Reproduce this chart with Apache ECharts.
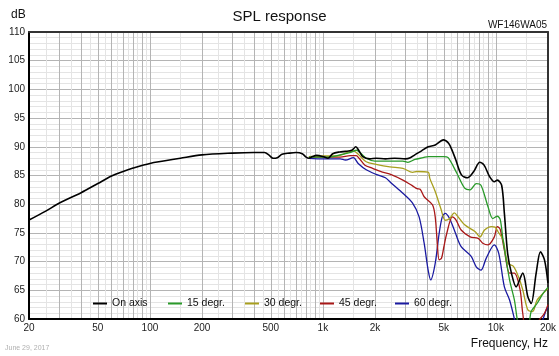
<!DOCTYPE html>
<html>
<head>
<meta charset="utf-8">
<script src="https://cdn.jsdelivr.net/npm/echarts@6/dist/echarts.min.js"></script>
<style>
html,body{margin:0;padding:0;background:#fff;}
#chart{width:559px;height:356px;}
</style>
</head>
<body>
<div id="chart"></div>
<script>
// ---- data (frequency in Hz, level in dB) ----
const seriesNames = ['On axis', '15 degr.', '30 degr.', '45 degr.', '60 degr.'];

const onAxis = [[20,77.25],[25,78.8],[30,80.2],[40,82.0],[50,83.6],[60,84.9],[70,85.7],[80,86.3],[100,87.1],[150,88.0],[200,88.6],[300,88.9],[400,89.0],[460,89.0],[490,88.5],[515,88.0],[545,88.1],[580,88.7],[640,88.9],[700,89.0],[760,88.8],[800,88.2],[830,88.0],[870,88.3],[920,88.5],[1000,88.3],[1070,88.0],[1140,88.8],[1250,89.1],[1350,89.2],[1470,89.4],[1550,90.0],[1610,89.4],[1700,88.3],[1870,87.9],[2030,88.0],[2300,87.9],[2600,88.0],[3000,87.9],[3200,88.1],[3400,88.6],[3720,89.3],[4060,90.0],[4460,90.3],[4970,91.2],[5330,90.6],[5600,89.3],[5870,87.7],[6330,85.1],[6850,84.6],[7450,85.7],[8070,87.3],[8550,86.8],[9200,84.8],[9800,83.9],[10200,84.2],[10800,83.3],[11200,78.4],[11700,71.4],[12300,68.0],[13100,65.6],[14300,68.0],[15300,63.9],[16000,62.7],[17100,68.0],[18100,71.7],[19100,70.3],[20000,66.3]];

const deg15 = [[830,88.2],[1000,88.2],[1100,88.2],[1260,88.6],[1430,89.0],[1570,89.4],[1650,88.9],[1780,88.0],[2000,87.5],[2500,87.5],[2900,87.5],[3100,87.3],[3400,87.8],[3800,88.1],[4060,88.3],[4500,88.3],[5000,88.3],[5300,88.1],[5950,85.4],[6600,82.8],[7100,82.5],[7700,83.6],[8200,83.3],[9000,79.6],[9600,77.5],[10200,77.9],[10600,77.3],[11000,73.8],[12000,66.8],[12800,63.3],[13500,59.0],[14500,57.5],[15500,59.0],[16000,61.3],[17300,62.7],[18800,64.5],[20000,65.5]];

const deg30 = [[830,88.3],[1000,88.4],[1200,88.4],[1500,89.3],[1600,88.7],[1780,87.4],[2030,86.95],[2440,86.5],[2900,86.25],[3300,85.55],[3500,85.7],[4060,85.6],[4150,84.5],[4460,82.2],[4800,79.3],[5100,77.2],[5400,77.5],[5750,78.5],[6050,77.8],[6600,76.4],[7600,75.2],[8100,74.3],[8600,75.5],[9400,76.1],[9900,76.0],[10300,75.2],[11000,73.8],[11700,69.7],[12600,69.2],[13500,67.4],[14300,65.1],[15300,61.6],[16300,61.3],[17300,63.3],[18800,64.5],[20000,65.3]];

const deg45 = [[830,88.2],[1000,88.2],[1260,88.2],[1440,88.45],[1560,88.45],[1620,88.0],[1750,86.8],[1940,86.25],[2150,85.7],[2500,85.1],[2900,84.2],[3300,83.2],[3500,82.7],[3650,82.6],[3850,81.3],[4300,79.9],[4460,77.8],[4570,73.8],[4700,70.3],[4850,70.6],[5000,72.5],[5200,74.9],[5600,77.8],[5900,77.2],[6300,75.5],[7100,74.3],[7900,74.05],[8400,73.2],[9000,72.9],[9800,74.3],[10200,76.1],[10600,75.6],[11200,72.0],[12000,68.0],[12800,68.0],[13800,65.1],[14300,61.0],[15000,58.0],[16500,58.5],[18000,60.0],[19100,61.0],[20000,62.5]];

const deg60 = [[830,88.0],[1000,87.9],[1260,87.9],[1350,87.7],[1500,88.1],[1600,87.1],[1780,86.0],[2030,85.2],[2300,84.6],[2500,83.6],[2900,81.9],[3300,80.2],[3600,77.8],[3850,73.2],[4060,68.5],[4200,66.8],[4460,69.7],[4700,74.9],[4900,77.8],[5100,78.4],[5400,77.5],[5800,75.2],[6300,72.6],[7200,70.9],[7700,69.1],[8200,68.5],[8800,70.6],[9800,72.9],[10400,71.4],[11200,65.6],[12000,63.3],[12800,60.0],[13500,57.0],[15000,56.0],[17000,57.0],[18500,59.5],[19500,61.5],[20000,62.0]];

const xTickLabels = [20, 50, 100, 200, 500, 1000, 2000, 5000, 10000, 20000];
const xMajorGrid = [30,40,50,60,70,80,90,100,200,300,400,500,600,700,800,900,1000,2000,3000,4000,5000,6000,7000,8000,9000,10000];
const xMinorGrid = [25,35,45,55,65,75,85,95,150,250,350,450,550,650,750,850,950,1500,2500,3500,4500,5500,6500,7500,8500,9500,15000];
const yMin = 60, yMax = 110, yStep = 5;

// ---- build ----
const lg = v => Math.log10(v);
const toXY = arr => arr.map(p => [lg(p[0]), p[1]]);
const fmtHz = v => v >= 1000 ? (v / 1000) + 'k' : String(v);

const colors = {
  'On axis': '#000000',
  '15 degr.': '#2a9a2a',
  '30 degr.': '#a89f1e',
  '45 degr.': '#a81818',
  '60 degr.': '#1a1aa0'
};
const dataMap = {'On axis': onAxis, '15 degr.': deg15, '30 degr.': deg30, '45 degr.': deg45, '60 degr.': deg60};

const FONT = '"Liberation Sans", Arial, sans-serif';

const dataSeries = ['60 degr.', '45 degr.', '30 degr.', '15 degr.', 'On axis'].map(name => ({
  name: name,
  type: 'line',
  xAxisIndex: 1,
  yAxisIndex: 0,
  data: toXY(dataMap[name]),
  showSymbol: false,
  symbol: 'none',
  smooth: 0.3,
  clip: true,
  color: colors[name],
  itemStyle: {color: colors[name]},
  lineStyle: {color: colors[name], width: name === 'On axis' ? 1.6 : 1.3, type: 'solid'},
  emphasis: {disabled: true},
  animation: false
}));

const legendLefts = [93, 168, 245, 320, 395];
const legends = seriesNames.map((name, i) => ({
  data: [{name: name, icon: 'rect', itemStyle: {color: colors[name], borderWidth: 0}}],
  left: legendLefts[i], top: 298, padding: 0,
  itemWidth: 14, itemHeight: 2,
  selectedMode: false,
  textStyle: {fontSize: 10.5, color: '#111', fontFamily: FONT}
}));

const xBase = {
  type: 'value',
  min: lg(20), max: lg(20000)
};
const frameLine = {show: true, onZero: false, lineStyle: {color: '#333', width: 2}};

const chart = echarts.init(document.getElementById('chart'), null, {renderer: 'canvas'});
chart.setOption({
  animation: false,
  backgroundColor: '#ffffff',
  textStyle: {fontFamily: FONT},
  title: [
    {text: 'SPL response', left: 'center', top: 9, padding: 0,
      textStyle: {fontSize: 15, fontWeight: 'normal', color: '#111', fontFamily: FONT}},
    {text: 'dB', left: 11, top: 9, padding: 0,
      textStyle: {fontSize: 12, fontWeight: 'normal', color: '#111', fontFamily: FONT}},
    {text: 'WF146WA05', right: 12, top: 20, padding: 0,
      textStyle: {fontSize: 10, fontWeight: 'normal', color: '#111', fontFamily: FONT}},
    {text: 'Frequency, Hz', right: 11, top: 338, padding: 0,
      textStyle: {fontSize: 12, fontWeight: 'normal', color: '#111', fontFamily: FONT}},
    {text: 'June 29, 2017', left: 5, top: 345, padding: 0,
      textStyle: {fontSize: 7, fontWeight: 'normal', color: '#b0b0b0', fontFamily: FONT}}
  ],
  grid: {
    left: 29, right: 11, top: 32, bottom: 37,
    show: true, borderWidth: 0, backgroundColor: '#fff',
    containLabel: false
  },
  legend: legends,
  xAxis: [
    Object.assign({}, xBase, {
      position: 'bottom',
      axisLine: {show: false},
      axisTick: {show: false, customValues: xMinorGrid.map(lg)},
      axisLabel: {show: false},
      splitLine: {show: true, lineStyle: {color: '#e4e4e4', width: 1}}
    }),
    Object.assign({}, xBase, {
      position: 'bottom',
      axisLine: {show: true, onZero: false, lineStyle: {color: '#000', width: 2}},
      axisTick: {show: false, customValues: xMajorGrid.map(lg)},
      splitLine: {show: true, lineStyle: {color: '#b4b4b4', width: 1}},
      axisLabel: {
        customValues: xTickLabels.map(lg),
        formatter: v => fmtHz(Math.round(Math.pow(10, v))),
        fontSize: 10, color: '#222', margin: 4, fontFamily: FONT,
        showMinLabel: true, showMaxLabel: true
      }
    }),
    Object.assign({}, xBase, {
      position: 'top',
      axisLine: frameLine,
      axisTick: {show: false},
      axisLabel: {show: false},
      splitLine: {show: false}
    })
  ],
  yAxis: [
    {
      type: 'value',
      position: 'left',
      min: yMin, max: yMax, interval: yStep,
      axisLine: {show: true, onZero: false, lineStyle: {color: '#000', width: 2}},
      axisTick: {show: false},
      axisLabel: {fontSize: 10, color: '#222', margin: 4, fontFamily: FONT},
      splitLine: {show: true, lineStyle: {color: '#b4b4b4', width: 1}},
      minorTick: {show: false, splitNumber: 5},
      minorSplitLine: {show: true, lineStyle: {color: '#e4e4e4', width: 1}}
    },
    {
      type: 'value',
      position: 'right',
      min: yMin, max: yMax, interval: yStep,
      axisLine: frameLine,
      axisTick: {show: false},
      axisLabel: {show: false},
      splitLine: {show: false}
    }
  ],
  series: dataSeries
});
</script>
</body>
</html>
